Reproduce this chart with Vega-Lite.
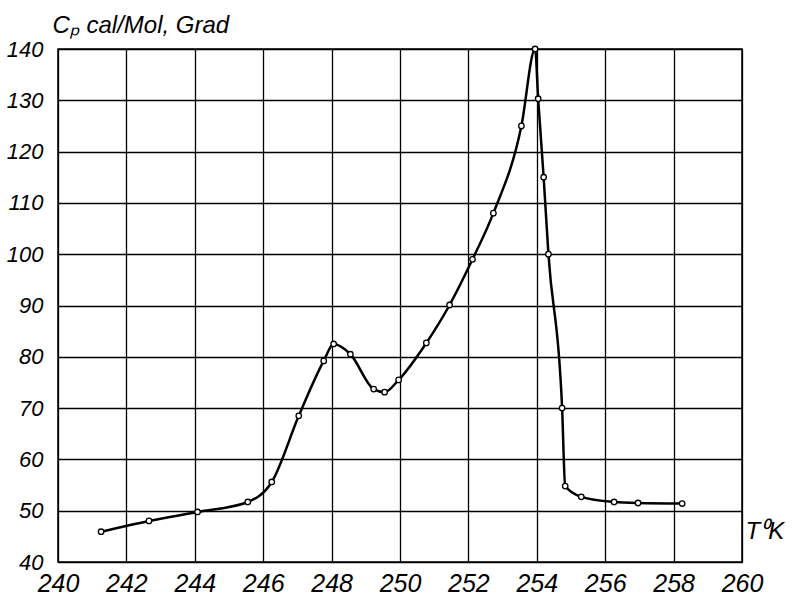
{
  "$schema": "https://vega.github.io/schema/vega-lite/v6.json",
  "width": 684,
  "height": 513,
  "autosize": "none",
  "padding": {"left": 58, "top": 49, "right": 57, "bottom": 34},
  "background": "white",
  "config": {
    "view": {"stroke": "black", "strokeWidth": 1.5},
    "font": "Liberation Sans",
    "style": {"guide-label": {"fontStyle": "italic", "font": "Liberation Sans", "fill": "black"}},
    "axis": {
      "grid": true, "gridColor": "black", "gridWidth": 1.3, "gridOpacity": 1,
      "domain": false, "ticks": false, "labelFlush": false, "labelOverlap": false, "labelBound": false,
      "labelFont": "Liberation Sans", "labelFontStyle": "italic", "labelColor": "black",
      "titleFont": "Liberation Sans", "titleFontStyle": "italic", "titleFontWeight": "normal", "titleColor": "black"
    }
  },
  "data": {"values": [
    {"T": 241.26, "Cp": 45.9},
    {"T": 242.66, "Cp": 48.0},
    {"T": 244.08, "Cp": 49.75},
    {"T": 245.55, "Cp": 51.7},
    {"T": 246.25, "Cp": 55.6},
    {"T": 247.04, "Cp": 68.5},
    {"T": 247.77, "Cp": 79.2},
    {"T": 248.06, "Cp": 82.5},
    {"T": 248.55, "Cp": 80.5},
    {"T": 249.23, "Cp": 73.7},
    {"T": 249.55, "Cp": 73.1},
    {"T": 249.96, "Cp": 75.5},
    {"T": 250.77, "Cp": 82.7},
    {"T": 251.45, "Cp": 90.1},
    {"T": 252.12, "Cp": 99.0},
    {"T": 252.73, "Cp": 108.0},
    {"T": 253.55, "Cp": 125.0},
    {"T": 253.95, "Cp": 140.0},
    {"T": 254.04, "Cp": 130.3},
    {"T": 254.2, "Cp": 115.0},
    {"T": 254.34, "Cp": 100.0},
    {"T": 254.74, "Cp": 70.0},
    {"T": 254.83, "Cp": 54.8},
    {"T": 255.3, "Cp": 52.7},
    {"T": 256.26, "Cp": 51.7},
    {"T": 256.96, "Cp": 51.5},
    {"T": 258.25, "Cp": 51.4}
  ]},
  "encoding": {
    "x": {
      "field": "T", "type": "quantitative",
      "scale": {"domain": [240, 260], "nice": false, "zero": false},
      "axis": {
        "values": [240, 242, 244, 246, 248, 250, 252, 254, 256, 258, 260],
        "labelFontSize": 25, "labelPadding": 9, "labelFlush": false,
        "title": "T⁰K", "titleFontSize": 24,
        "titleX": 687, "titleY": -24, "titleAlign": "left", "titleBaseline": "alphabetic", "titleAnchor": null
      }
    },
    "y": {
      "field": "Cp", "type": "quantitative",
      "scale": {"domain": [40, 140], "nice": false, "zero": false},
      "axis": {
        "values": [40, 50, 60, 70, 80, 90, 100, 110, 120, 130, 140],
        "labelFontSize": 22, "labelPadding": 15, "labelFlush": false,
        "title": "Cₚ cal/Mol, Grad", "titleFontSize": 24, "titleAngle": 0,
        "titleX": -6, "titleY": -17, "titleAlign": "left", "titleBaseline": "alphabetic", "titleAnchor": null
      }
    }
  },
  "layer": [
    {"mark": {"type": "line", "interpolate": "monotone", "color": "black", "strokeWidth": 2.5}},
    {"mark": {"type": "point", "shape": "circle", "filled": true, "fill": "white", "stroke": "black", "strokeWidth": 1.3, "size": 30, "opacity": 1}}
  ]
}
